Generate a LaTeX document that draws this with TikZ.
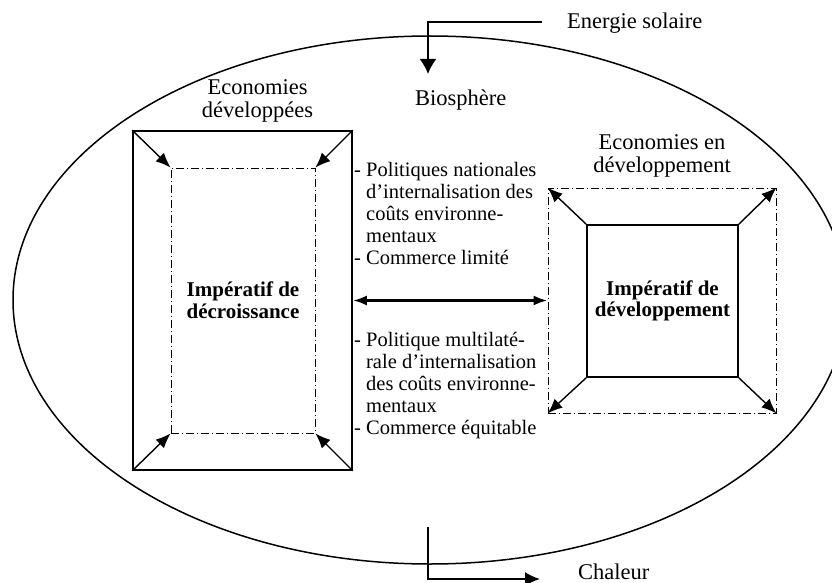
\documentclass[tikz,border=0pt]{standalone}
\usepackage{fontspec}
\setmainfont{Liberation Serif}
\usetikzlibrary{positioning, arrows.meta}

\tikzset{
    dashdot/.style={draw, rectangle, line width=0.8pt, dash pattern=on 8pt off 3pt on 1pt off 3pt},
    solidbox/.style={draw, rectangle, line width=1.6pt},
    tip/.style={-{Latex[length=15pt,width=12pt]}, line width=1.4pt},
    lab/.style={font=\fontsize{22.5}{23}\selectfont},
}

\begin{document}
\begin{tikzpicture}[x=1pt, y=1pt, inner sep=0pt, font=\fontsize{20.5}{22}\selectfont]
    \useasboundingbox (0,0) rectangle (832,-583);

    % biosphere
    \draw[line width=1.5pt] (430,-300) ellipse [x radius=417, y radius=264];
    \node (bio) [lab, anchor=base west] at (415,-106) {Biosphère};

    % economies developpees
    \node (dev) [solidbox, minimum width=219pt, minimum height=339pt] at (242.5,-300.5) {};
    \node (devin) [dashdot, minimum width=144pt, minimum height=265pt, align=center, font=\fontsize{21}{22}\selectfont\bfseries] at (243,-300.5) {Impératif de\\décroissance};
    \node (devlab) [lab, above=8pt of dev.north, xshift=15pt, align=center] {Economies\\développées};

    % economies en developpement
    \node (emgout) [dashdot, minimum width=228pt, minimum height=225pt] at (662,-300.5) {};
    \node (emg) [solidbox, minimum width=151pt, minimum height=152pt, align=center, font=\fontsize{21}{21}\selectfont\bfseries] at (662.5,-301) {Impératif de\\développement};
    \node (emglab) [lab, above=10pt of emgout.north, align=center] {Economies en\\développement};

    \foreach \c in {north west, north east, south west, south east} {
        \draw[tip] (dev.\c) -- (devin.\c);
        \draw[tip] (emg.\c) -- (emgout.\c);
    }

    % politiques
    \node (polnat) [anchor=north west, align=left] at (354,-162) {- Politiques nationales\\
        \hphantom{- }d’internalisation des\\
        \hphantom{- }coûts environne-\\
        \hphantom{- }mentaux\\
        - Commerce limité};
    \node (polmul) [anchor=north west, align=left] at (354,-332) {- Politique multilaté-\\
        \hphantom{- }rale d’internalisation\\
        \hphantom{- }des coûts environne-\\
        \hphantom{- }mentaux\\
        - Commerce équitable};
    \draw[{Latex[length=14pt,width=10pt]}-{Latex[length=14pt,width=10pt]}, line width=3pt] (dev.east) -- (emgout.west);

    % energie et chaleur
    \node (sun) [lab, anchor=base west] at (567,-29) {Energie solaire};
    \coordinate (sunin) at (428,-74);
    \draw[-{Latex[length=15pt,width=17pt]}, line width=1.8pt] ([xshift=-25pt, yshift=7pt]sun.base west) -| (sunin);
    \node (heat) [lab, anchor=base west] at (578,-579) {Chaleur};
    \coordinate (heatout) at (428,-527);
    \draw[-{Latex[length=15pt,width=14pt]}, line width=1.8pt] (heatout) |- ([xshift=-38pt]heat.base west);
\end{tikzpicture}
\end{document}
